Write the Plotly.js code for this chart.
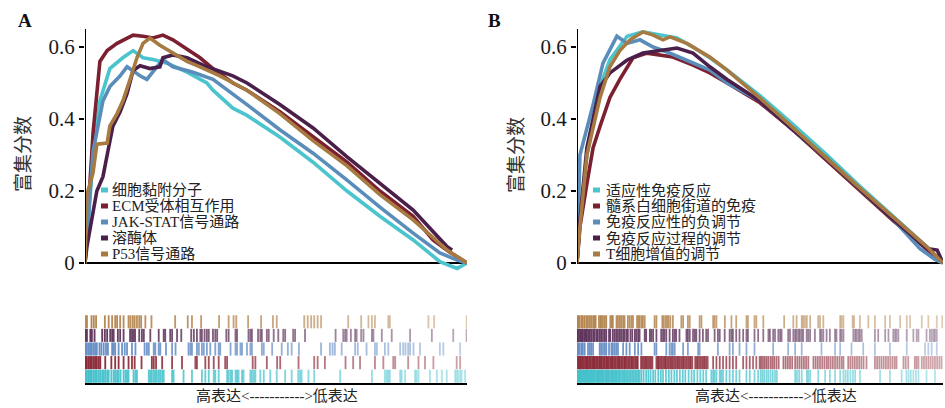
<!DOCTYPE html>
<html><head><meta charset="utf-8">
<script src="https://cdn.plot.ly/plotly-3.0.1.min.js"></script>
<style>html,body{margin:0;padding:0;background:#fff}#chart{width:945px;height:408px}</style>
</head><body><div id="chart"></div>
<script>
// ---------- names ----------
const namesA = ['细胞黏附分子','ECM受体相互作用','JAK-STAT信号通路','溶酶体','P53信号通路'];
const namesB = ['适应性免疫反应','髓系白细胞街道的免疫','免疫反应性的负调节','免疫反应过程的调节','T细胞增值的调节'];
const yTicks = [0, 0.2, 0.4, 0.6];
const yTickText = ['0', '0.2', '0.4', '0.6'];
const yTitle = '富集分数';
const rankLabel = '高表达<----------->低表达';

// ---------- panel A running enrichment scores (x = rank %, y = ES) ----------
const cyanA_x = [0,0.8,2.1,3.9,6.5,9.9,12.6,15.2,17.8,21.5,26.7,31.9,33.5,38.7,42.4,51,59.7,68.6,77.2,85.9,92.9,97.4,100];
const cyanA_y = [0,0.1,0.3,0.45,0.54,0.57,0.59,0.57,0.565,0.555,0.53,0.5,0.48,0.43,0.41,0.35,0.28,0.2,0.13,0.064,0.004,-0.015,0];
const redA_x = [0,0.8,2.1,3.9,5.8,8.4,12.6,15.2,17.8,20.4,23,30.1,33.5,38.7,42.4,51,59.7,68.6,77.2,85.9,91.1,95.5,100];
const redA_y = [0,0.15,0.36,0.56,0.59,0.61,0.633,0.63,0.625,0.633,0.62,0.57,0.54,0.5,0.48,0.42,0.35,0.28,0.2,0.13,0.064,0.03,0];
const blueA_x = [0,0.8,2.1,4.7,6.5,9.2,11,14.4,16.2,18.8,20.4,23,28.3,33.5,38.7,42.4,51,59.7,68.6,77.2,85.9,92.9,97.4,100];
const blueA_y = [0,0.12,0.31,0.45,0.49,0.52,0.545,0.52,0.51,0.545,0.565,0.545,0.53,0.51,0.47,0.44,0.37,0.305,0.23,0.155,0.083,0.028,0.008,0];
const purpleA_x = [0,0.5,3.1,4.7,5.8,7.3,9.2,11,12.6,14.4,17,19.6,20.4,23,26.7,31.9,38.7,42.4,51,59.7,68.6,77.2,85.9,94.8,96.1];
const purpleA_y = [0,0.045,0.2,0.24,0.3,0.38,0.42,0.47,0.535,0.548,0.54,0.545,0.57,0.578,0.57,0.545,0.52,0.5,0.44,0.375,0.295,0.22,0.147,0.045,0.036];
const orangeA_x = [0,0.5,2.1,3.1,5.8,6.5,8.4,9.9,11.8,13.6,15.2,17,19.6,23,26.7,30.1,35.3,42.4,51,59.7,68.6,77.2,85.9,94.8,100];
const orangeA_y = [0,0.19,0.25,0.33,0.333,0.38,0.415,0.45,0.51,0.57,0.61,0.625,0.605,0.583,0.56,0.545,0.52,0.48,0.415,0.34,0.27,0.19,0.12,0.036,0];

// ---------- panel B running enrichment scores ----------
const cyanB_x = [0,0.8,2.7,6.3,9,13.7,18,22.7,27.3,31.7,36.3,41,50,59,68.3,77.3,86.3,95.6,100];
const cyanB_y = [0,0.12,0.3,0.49,0.565,0.63,0.642,0.633,0.625,0.6,0.57,0.536,0.465,0.385,0.3,0.213,0.13,0.045,0];
const redB_x = [0,0.8,2.7,4.4,6.3,9,11.7,15.3,19.1,22.7,26.2,31.7,36.3,41,50,59,68.3,77.3,86.3,95.6,100];
const redB_y = [0,0.1,0.22,0.32,0.38,0.46,0.51,0.57,0.583,0.578,0.572,0.55,0.528,0.5,0.445,0.37,0.285,0.2,0.118,0.038,0];
const blueB_x = [0,0.8,4.4,7.1,10.9,13.7,17.2,20.8,24.6,30,36.3,41,50,59,68.3,77.3,86.3,93.7,97.8,100];
const blueB_y = [0,0.3,0.44,0.555,0.63,0.61,0.62,0.6,0.586,0.564,0.536,0.5,0.45,0.37,0.29,0.205,0.122,0.04,0.01,0];
const purpleB_x = [0,0.8,2.7,6.3,9,13.7,18,22.7,27.3,31.7,36.3,41,50,59,68.3,77.3,86.3,95.6,98.4,100];
const purpleB_y = [0,0.12,0.32,0.49,0.528,0.564,0.583,0.59,0.597,0.583,0.545,0.51,0.45,0.37,0.29,0.205,0.122,0.04,0.036,0];
const orangeB_x = [0,0.8,2.7,6.3,9,11.7,14.5,18,20.8,23.5,25.4,30,36.3,41,50,59,68.3,77.3,86.3,95.6,100];
const orangeB_y = [0,0.1,0.3,0.46,0.545,0.59,0.62,0.642,0.633,0.62,0.628,0.61,0.572,0.536,0.458,0.375,0.29,0.208,0.128,0.045,0];

// ---------- hit positions (rug) panel A ----------
const hitsOrangeA = [0,0.5,1.7,2.3,2.9,5.2,6.2,7.1,7.9,8.4,9.2,10.1,11.4,11.9,12.5,13,13.6,14.2,14.7,15.8,17.4,23.6,26.9,28,30.4,35.1,37.6,38.9,39.6,42.7,46.1,49.2,50.2,57.4,58.3,59.2,60,60.9,61.8,68.9,72.3,74.2,75.1,75.9,79.4,79.8,89.9,91.4,99.9];
const hitsPurpleA = [0.1,0.5,1.4,1.8,2.5,4.5,5.2,5.8,6.6,7.1,7.5,8.6,9.2,10.1,11.8,12.3,12.7,13.1,14.2,14.9,15.4,17.1,19.3,20.6,21,22.3,22.8,24.1,25.2,27.8,28.5,29.3,30.2,30.6,31.3,31.9,32.4,33.5,34.1,34.6,37,37.6,39.4,39.8,42.8,43.3,43.7,45.3,45.9,46.3,47.6,48.1,49.4,50.6,51.9,52.4,54.5,55,57.6,65.6,67.6,68.1,68.5,69.6,70.7,71.1,72.3,72.9,75.1,75.5,77.7,80.3,85.1,90.8,96.4,99.9];
const hitsBlueA = [0.1,0.5,1,1.4,1.8,2.3,2.7,3.1,3.8,4.3,4.9,5.5,6,7.1,7.5,7.9,8.8,9.7,10.4,11,12.3,13.2,15.6,16.2,16.7,18,18.4,19.3,19.7,21.2,22.8,23.7,27.1,27.6,28,29.3,29.8,30.6,31.1,31.9,32.8,34.1,35,35.4,38.1,39.4,39.8,40.7,41.1,42.4,43.3,43.7,46.3,46.8,49,51.5,53.1,54.1,56,61.8,64.1,64.8,65.4,67.2,70.7,71.4,73.7,75.9,76.4,78.5,79.4,82.5,83.3,83.9,84.6,85.1,86,87.7,92.9,93.8,98.2];
const hitsRedA = [0.1,0.5,1,1.4,1.8,2.3,2.7,3.1,3.6,4,5.3,6.9,7.9,8.8,10.1,11.4,12.3,13,14.8,17.5,18,18.6,20.2,22.8,25.4,28.9,29.3,31.5,32.4,33.7,35,36.7,37.2,43.9,44.6,47.6,50.3,51.1,55.9,60,60.9,62.8,68.2,70.2,72,75.9,78.1,80.7,81.2,84.6,87.3,89,91.2,97.3,98.2];
const hitsCyanA = [0.1,0.4,0.8,1.1,1.5,1.8,2.3,2.7,3.1,3.6,4,4.5,4.9,5.3,5.8,6.2,6.9,7.5,7.9,8.4,8.8,9.3,10.1,10.6,11,11.4,12.7,13.2,13.6,16.7,17.1,17.5,18,18.4,18.8,19.3,19.7,20.2,20.6,22.8,23.2,25.8,28,30.6,31.5,32.4,33.7,34.1,35,37.2,37.6,38.1,38.5,39.4,39.8,40.2,41.1,41.5,43.3,43.7,44.2,44.6,45.9,46.8,48.5,50.2,52.4,54.1,55.8,56.3,56.7,58.5,60,66.8,75.1,78.5,79,79.4,79.8,82.5,82.9,83.8,86.4,86.8,87.3,90.3,92.1,93.4,94.7,96.9,97.3,97.7,98.2,98.6,99.5];

// ---------- hit positions (rug) panel B ----------
const hitsOrangeB = [0,0.3,0.7,1.2,1.6,2.1,2.6,3,3.5,3.9,4.4,4.8,5.1,6,6.4,6.7,7.1,7.6,8,9.1,9.5,9.8,10.8,11.2,11.7,12.1,12.6,13,13.9,14.4,14.9,15.3,16.4,16.8,17.1,17.6,18,18.5,21.2,21.7,23.3,23.7,24.2,24.6,25,25.5,26.2,28.5,29,30.3,30.8,33.5,34,37.2,37.6,38.1,40.4,42.2,43.5,46.3,46.7,48.5,49,50.9,56.6,59.1,60,61.4,61.8,62.3,62.8,63.7,65.9,66.4,67.3,71.9,72.3,72.8,75.3,75.7,77.3,79.6,81.4,84.2,85.5,88.3,90.1,91,94.2,96,98.3,99.8];
const hitsPurpleB = [0,0.2,0.55,0.9,1.3,1.6,2,2.4,2.7,3.1,3.5,3.9,4.4,4.8,5.3,5.7,6.2,6.6,7.1,7.6,8,8.75,9.1,9.8,10.3,10.75,11.2,11.7,12.1,12.6,13,13.5,13.9,14.6,15.1,15.8,16.2,16.7,17.1,18.5,18.9,19.9,20.3,20.8,21.7,23,23.5,23.9,24.4,25.3,26.2,26.7,27.1,28,29.9,30.3,30.8,31.7,32.2,32.6,33.5,34.4,35.3,35.8,37.6,38.5,39,40.35,41.7,42.2,42.6,43.5,44.4,45.4,46.3,46.7,48.5,49.5,50.9,52.3,52.7,53.6,54.1,55,55.5,55.9,57.7,58.2,59.1,59.6,60,60.5,60.9,61.4,61.8,62.75,63.2,63.7,65,66.4,66.8,67.3,68.2,69.1,70.5,70.9,71.9,72.3,72.8,75.5,76,76.4,76.9,77.3,77.8,81.4,82.3,84.2,85.1,86.4,86.9,87.3,87.8,90.1,91.9,92.8,93.3,95.5,96.4,96.9,97.4,97.8,98.3];
const hitsBlueB = [0,0.3,0.7,1.2,1.6,2.1,3,3.5,3.9,4.4,6.2,6.6,7.1,7.6,8,8.75,9.4,9.8,10.3,10.75,11.2,12.6,13.5,14.4,15.8,16.7,17.6,21.2,21.7,24.4,25.3,25.8,26.2,26.7,29,30.3,33.1,33.5,38.5,41.7,42.6,44.4,46.3,48.5,53.6,57.7,59.6,61.4,66.8,70.5,71.9,75,78.2,81.4,85.5,90.1,95.1,96,96.9,98.3];
const hitsRedB = [0,0.4,0.8,1.1,1.5,1.9,2.3,2.7,3,3.4,3.8,4.2,4.6,4.9,5.3,5.7,6.1,6.4,6.8,7.2,7.6,8,8.3,8.7,9.1,9.5,9.8,10.2,10.6,11,11.4,11.7,12.1,12.5,12.9,13.2,13.6,14,14.4,14.8,15.1,15.5,15.9,16.3,16.6,17.5,17.9,18.3,18.7,19,19.4,19.8,20.2,20.6,21.7,22.1,22.4,22.8,23.2,23.6,24,24.3,24.7,25.1,25.5,25.8,26.2,26.6,27,27.4,27.7,28.1,28.5,28.9,29.2,29.6,30,30.4,30.8,31.1,31.5,32.3,32.7,33,33.4,33.8,34.2,34.6,34.9,35.3,35.7,37.2,38.1,39,39.9,40.8,41.7,42.6,43.5,45.4,46.3,47.2,48.1,49,49.9,50.3,50.8,51.3,51.8,52.3,52.9,53.4,53.9,54.5,55.1,56.4,57,57.6,58.2,58.8,59.6,60.2,60.8,61.4,62,62.6,63.2,64.6,65.2,65.8,66.4,67,67.6,68.2,68.7,69.3,69.9,70.5,71.1,71.7,72.3,72.8,74.1,74.7,75.3,75.9,76.5,77.1,77.7,78.3,79.1,81.4,82,82.6,83.2,83.8,84.4,85,85.6,86.2,86.8,87.3,89.2,89.8,90.5,92.3,92.8,93.3,94.2,94.8,95.4,96,96.6,97.2,97.8,98.4,99,99.6];
const hitsCyanB = [0,0.3,0.6,0.9,1.2,1.5,1.8,2.1,2.4,2.7,3,3.3,3.6,3.9,4.2,4.5,4.8,5.2,5.5,5.8,6.1,6.4,6.7,7,7.3,7.7,8,8.3,8.6,8.9,9.3,9.6,9.9,10.3,10.6,10.9,11.3,11.6,12,12.4,12.8,13.1,13.5,13.9,14.3,14.7,15.1,15.5,15.9,16.3,16.7,17.1,17.6,18.2,18.9,19.5,20.1,20.8,21.4,22.2,22.9,23.5,24.3,25.1,25.8,26.6,27.3,28.1,28.9,29.6,30.5,31.3,32,32.9,33.7,34.5,35.3,36.7,37.2,37.6,38.1,39,39.4,39.9,40.8,41.7,42.6,43.5,44.4,46.3,47.2,48.5,49.5,50.2,50.7,51.2,51.8,52.3,52.9,53.5,54.1,54.6,59.6,60.1,60.7,61.4,62.8,63.2,63.7,65.9,67.8,69.1,70.5,71.9,72.8,73.4,74,74.7,75.4,76,77.3,82.8,85.5,88.7,90,90.6,91.2,91.9,92.6,93.3,95.5,97.8];

// ---------- styling ----------
const lineColors = ['#4cc4cd','#7c1f30','#5a8dba','#4a1f49','#a77a41'];
const rugColors  = ['#3fbfca','#86202f','#5f88c2','#5a2d56','#b08048'];
const W = 945, H = 408;
const px = X => X / W;
const py = Y => 1 - Y / H;
const SERIF = 'Liberation Serif, "Times New Roman", "Noto Sans CJK SC", serif';
const CJK = '"Liberation Serif", "Noto Sans CJK SC", serif';

const curvesA = [[cyanA_x,cyanA_y],[redA_x,redA_y],[blueA_x,blueA_y],[purpleA_x,purpleA_y],[orangeA_x,orangeA_y]];
const curvesB = [[cyanB_x,cyanB_y],[redB_x,redB_y],[blueB_x,blueB_y],[purpleB_x,purpleB_y],[orangeB_x,orangeB_y]];
const hitsA = [hitsCyanA, hitsRedA, hitsBlueA, hitsPurpleA, hitsOrangeA];
const hitsB = [hitsCyanB, hitsRedB, hitsBlueB, hitsPurpleB, hitsOrangeB];

const traces = [];
function addPanel(curves, hits, names, xa, ya, xr, yr) {
  hits.forEach((h, i) => {
    traces.push({
      type: 'bar', x: h, y: h.map(() => 0.96), base: h.map(() => i + 0.02),
      width: 0.48, xaxis: xr, yaxis: yr, showlegend: false, hoverinfo: 'skip',
      marker: { color: rugColors[i], opacity: h.map(p => 0.95 - 0.55 * p / 100), line: { width: 0 } }
    });
  });
  curves.forEach((c, i) => {
    traces.push({
      type: 'scatter', mode: 'lines', x: c[0], y: c[1], name: names[i],
      xaxis: xa, yaxis: ya, showlegend: false, hoverinfo: 'skip',
      line: { color: lineColors[i], width: 3.6 }
    });
  });
}
addPanel(curvesA, hitsA, namesA, 'x', 'y', 'x2', 'y2');
addPanel(curvesB, hitsB, namesB, 'x3', 'y3', 'x4', 'y4');

const curveDom = [py(273.8), py(29)];
const rugDom = [py(383), py(315)];
const domA = [px(85), px(467)];
const domB = [px(577), px(943)];

function curveY(anchor) {
  return {
    domain: curveDom, anchor: anchor, range: [-0.03, 0.65],
    showline: false, showgrid: false, zeroline: true, zerolinecolor: '#000', zerolinewidth: 2,
    tickmode: 'array', tickvals: yTicks, ticktext: yTickText,
    ticks: 'outside', ticklen: 5, tickwidth: 2, tickcolor: '#000',
    tickfont: { family: SERIF, size: 21, color: '#1a1a1a' }, ticklabelstandoff: 0
  };
}
function curveX(dom, anchor) {
  return { domain: dom, anchor: anchor, range: [0, 100], showgrid: false, zeroline: false,
           showline: false, showticklabels: false, ticks: '' };
}
function rugX(dom, anchor) {
  return { domain: dom, anchor: anchor, range: [0, 100], showgrid: false, zeroline: false,
           showline: true, linecolor: '#000', linewidth: 2, showticklabels: false, ticks: '' };
}
function rugY(anchor) {
  return { domain: rugDom, anchor: anchor, range: [0, 5], visible: false, fixedrange: true };
}

const annotations = [];
const shapes = [];
// panel letters
annotations.push({ xref: 'paper', yref: 'paper', x: px(16), y: py(20), xanchor: 'left', yanchor: 'middle',
  text: '<b>A</b>', showarrow: false, font: { family: SERIF, size: 19, color: '#111' } });
annotations.push({ xref: 'paper', yref: 'paper', x: px(486), y: py(20), xanchor: 'left', yanchor: 'middle',
  text: '<b>B</b>', showarrow: false, font: { family: SERIF, size: 19, color: '#111' } });
// y titles
[[23, 154], [516, 155]].forEach(p => annotations.push({ xref: 'paper', yref: 'paper', x: px(p[0]), y: py(p[1]),
  xanchor: 'center', yanchor: 'middle', textangle: -90, text: yTitle, showarrow: false,
  font: { family: CJK, size: 19, color: '#333' } }));
// bottom labels
[[277, 396], [776, 396]].forEach(p => annotations.push({ xref: 'paper', yref: 'paper', x: px(p[0]), y: py(p[1]),
  xanchor: 'center', yanchor: 'middle', text: rankLabel.replace(/</g, '&lt;').replace(/>/g, '&gt;'), showarrow: false,
  font: { family: CJK, size: 15, color: '#222' } }));
// y axis lines
[['x', 'y'], ['x3', 'y3']].forEach(a => shapes.push({ type: 'line', xref: a[0], yref: a[1], x0: 0, x1: 0, y0: 0, y1: 0.65,
  line: { color: '#000', width: 2 } }));
// legends
const rowsY = [190, 206, 222, 238, 254];
function addLegend(names, sqX, txtX) {
  names.forEach((n, i) => {
    shapes.push({ type: 'rect', xref: 'paper', yref: 'paper', x0: px(sqX), x1: px(sqX + 7),
      y0: py(rowsY[i] + 2.5), y1: py(rowsY[i] - 2.5), fillcolor: lineColors[i], line: { width: 0 } });
    annotations.push({ xref: 'paper', yref: 'paper', x: px(txtX), y: py(rowsY[i]), xanchor: 'left', yanchor: 'middle',
      text: n, showarrow: false, borderpad: 0, font: { family: CJK, size: 15, color: '#222' } });
  });
}
addLegend(namesA, 101, 111);
addLegend(namesB, 593, 605);

const layout = {
  width: W, height: H, margin: { l: 0, r: 0, t: 0, b: 0 },
  paper_bgcolor: '#fff', plot_bgcolor: 'rgba(0,0,0,0)',
  barmode: 'overlay', showlegend: false,
  xaxis: curveX(domA, 'y'), yaxis: curveY('x'),
  xaxis2: rugX(domA, 'y2'), yaxis2: rugY('x2'),
  xaxis3: curveX(domB, 'y3'), yaxis3: curveY('x3'),
  xaxis4: rugX(domB, 'y4'), yaxis4: rugY('x4'),
  annotations: annotations, shapes: shapes
};
Plotly.newPlot('chart', traces, layout, { staticPlot: true, displayModeBar: false });
</script>
</body></html>
